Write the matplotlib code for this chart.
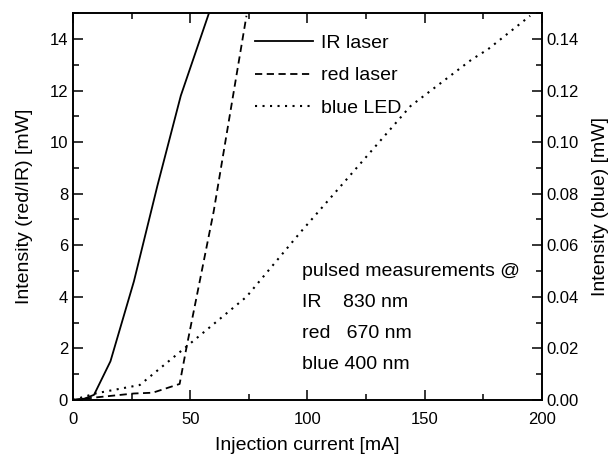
"""Light output vs injection current for IR/red lasers and a blue LED."""

import matplotlib
matplotlib.use("Agg")
import matplotlib.pyplot as plt
from matplotlib.ticker import MultipleLocator

# IR laser (left axis, mW)
ir_current = [0, 5, 9, 16, 26, 36, 46, 58]
ir_power = [0.0, 0.05, 0.2, 1.5, 4.6, 8.3, 11.8, 15.0]

# red laser (left axis, mW)
red_current = [0, 10, 26, 34, 45.5, 48.5, 60, 74]
red_power = [0.0, 0.1, 0.25, 0.28, 0.62, 2.07, 7.3, 14.9]

# blue LED (right axis, mW)
blue_current = [0, 10, 28.5, 47.5, 74, 97, 144, 170, 177, 195]
blue_power = [0.0, 0.0026, 0.0058, 0.020, 0.040, 0.065, 0.114, 0.132, 0.136, 0.149]

note = ["pulsed measurements @", "IR    830 nm", "red   670 nm", "blue 400 nm"]

plt.rcParams["font.family"] = ["Liberation Sans", "DejaVu Sans"]
plt.rcParams["font.size"] = 13

fig = plt.figure(figsize=(6.13, 4.55), dpi=100)
ax = fig.add_axes([0.119, 0.121, 0.765, 0.850])
ax2 = ax.twinx()

l1, = ax.plot(ir_current, ir_power, "k-", lw=1.3, label="IR laser")
l2, = ax.plot(red_current, red_power, color="k", lw=1.3,
              ls=(0, (4, 2.5)), label="red laser")
l3, = ax2.plot(blue_current, blue_power, color="k", lw=1.5,
               ls=(0, (1, 2.6)), label="blue LED")

ax.set_xlim(0, 200)
ax.set_ylim(0, 15)
ax2.set_ylim(0, 0.15)

ax.xaxis.set_major_locator(MultipleLocator(50))
ax.xaxis.set_minor_locator(MultipleLocator(25))
ax.yaxis.set_major_locator(MultipleLocator(2))
ax.yaxis.set_minor_locator(MultipleLocator(1))
ax2.yaxis.set_major_locator(MultipleLocator(0.02))
ax2.yaxis.set_minor_locator(MultipleLocator(0.01))
ax2.yaxis.set_major_formatter(lambda v, p: f"{v:.2f}")

ax.tick_params(which="both", direction="in", top=True, labelsize=12, width=1.1)
ax.tick_params(axis="x", which="major", pad=9)
ax.tick_params(which="major", length=7)
ax.tick_params(which="minor", length=4)
ax2.tick_params(which="both", direction="in", labelsize=12, width=1.1)
ax2.tick_params(which="major", length=7)
ax2.tick_params(which="minor", length=4)
for a in (ax, ax2):
    for s in a.spines.values():
        s.set_linewidth(1.2)

ax.set_xlabel("Injection current [mA]", fontsize=14, labelpad=7)
ax.set_ylabel("Intensity (red/IR) [mW]", fontsize=14, labelpad=12)
ax2.set_ylabel("Intensity (blue) [mW]", fontsize=14, labelpad=9)

ax.legend(handles=[l1, l2, l3], loc="upper left", bbox_to_anchor=(0.388, 0.945),
          frameon=False, handlelength=3.0, handletextpad=0.4,
          labelspacing=0.76, borderpad=0, borderaxespad=0, fontsize=14)

ax.text(0.488, 0.354, "\n".join(note), transform=ax.transAxes,
        fontsize=14, va="top", ha="left", linespacing=2.07)

fig.savefig("out.png", dpi=100)
